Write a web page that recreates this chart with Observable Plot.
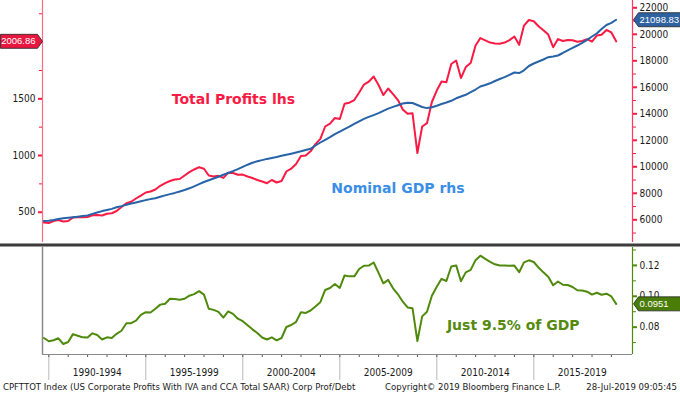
<!DOCTYPE html>
<html><head><meta charset="utf-8">
<script src="https://cdn.jsdelivr.net/npm/d3@7"></script>
<script src="https://cdn.jsdelivr.net/npm/@observablehq/plot@0.6"></script>
<style>
html,body{margin:0;padding:0;background:#fff;}
#chart{position:relative;width:680px;height:393px;overflow:hidden;background:#fff;font-family:"DejaVu Sans Condensed","DejaVu Sans",sans-serif;}
.layer{position:absolute;left:0;}
.layer svg{display:block;}
#sep{position:absolute;left:0;top:243px;width:680px;height:2px;background:#3c3c3c;border-top:1px solid #9a9a9a;border-bottom:1px solid #9a9a9a;}
#footer{position:absolute;left:0;top:381px;width:680px;height:12px;font-size:9.5px;line-height:11px;color:#1a1a1a;white-space:nowrap;font-stretch:condensed;}
#footer span{position:absolute;top:0;}
</style></head><body>
<div id="chart">
  <div id="upper1" class="layer" style="top:0"></div>
  <div id="upper2" class="layer" style="top:0"></div>
  <div id="sep"></div>
  <div id="lower" class="layer" style="top:247px"></div>
  <div id="footer">
    <span style="left:3px">CPFTTOT Index (US Corporate Profits With IVA and CCA Total SAAR) Corp Prof/Debt</span>
    <span style="left:385px">Copyright© 2019 Bloomberg Finance L.P.</span>
    <span style="right:3px">28-Jul-2019 09:05:45</span>
  </div>
</div>
<script>
// ---------------- data (quarterly, first observation 1989 Q3) ----------------
const startYear = 1989, startQuarter = 3;

// Total corporate profits (lhs, USD bn SAAR)
const profits = [
  409,405,422,431,418,422,453,456,456,458,
  473,475,471,486,491,511,546,579,592,621,
  647,674,683,700,733,757,775,788,793,824,
  854,877,897,883,824,815,821,803,848,846,
  830,832,815,802,784,771,756,784,762,775,
  859,884,925,996,1000,1037,1101,1147,1256,1282,
  1331,1322,1456,1466,1489,1556,1626,1651,1697,1622,
  1533,1591,1542,1489,1406,1368,1373,1022,1256,1285,
  1472,1573,1652,1646,1807,1838,1683,1780,1816,1970,
  2036,2016,1996,1988,1985,1996,2018,2049,1976,2146,
  2195,2184,2140,2105,2067,1955,2027,2010,2018,2016,
  2003,2010,2027,2005,2058,2065,2107,2085,2006.86
];

// Nominal GDP (rhs, USD bn SAAR)
const gdp = [
  5909,5932,5985,6060,6113,6151,6189,6234,6279,6332,
  6445,6551,6657,6740,6823,6943,7034,7140,7230,7313,
  7396,7487,7562,7623,7736,7841,7940,8030,8136,8249,
  8377,8528,8687,8853,8981,9117,9253,9396,9532,9668,
  9826,9992,10158,10302,10415,10505,10596,10664,10740,10830,
  10906,10989,11079,11170,11268,11358,11607,11834,12038,12241,
  12468,12649,12845,13026,13238,13434,13622,13766,13902,14053,
  14219,14392,14521,14641,14777,14830,14815,14664,14513,14430,
  14490,14611,14739,14853,14981,15170,15305,15434,15630,15834,
  16060,16173,16302,16475,16626,16770,16936,17117,17079,17283,
  17607,17796,17947,18098,18271,18324,18400,18589,18792,18981,
  19154,19350,19584,19834,20060,20400,20701,20868,21098.83
];

// Profits / GDP (lower panel)
const ratio = [
  0.0730,0.0709,0.0715,0.0728,0.0691,0.0704,0.0755,0.0744,0.0734,0.0733,
  0.0760,0.0749,0.0720,0.0734,0.0730,0.0757,0.0777,0.0825,0.0826,0.0842,
  0.0880,0.0897,0.0895,0.0919,0.0946,0.0952,0.0984,0.0982,0.0978,0.0984,
  0.1004,0.1014,0.1033,0.1011,0.0919,0.0912,0.0899,0.0862,0.0902,0.0886,
  0.0855,0.0839,0.0812,0.0786,0.0762,0.0733,0.0720,0.0734,0.0715,0.0730,
  0.0801,0.0814,0.0834,0.0897,0.0892,0.0908,0.0934,0.0962,0.1041,0.1054,
  0.1080,0.1054,0.1135,0.1129,0.1129,0.1177,0.1198,0.1199,0.1219,0.1152,
  0.1084,0.1106,0.1052,0.1013,0.0965,0.0928,0.0923,0.0710,0.0870,0.0900,
  0.1003,0.1062,0.1113,0.1099,0.1193,0.1200,0.1097,0.1155,0.1171,0.1234,
  0.1263,0.1242,0.1223,0.1207,0.1199,0.1200,0.1198,0.1199,0.1156,0.1220,
  0.1233,0.1222,0.1186,0.1155,0.1126,0.1072,0.1096,0.1075,0.1073,0.1060,
  0.1039,0.1038,0.1030,0.1011,0.1023,0.1010,0.1017,0.0999,0.0951
];

// axis ticks and labels (the 2000 label is hidden under the last-value tag in the original)
const leftTicks  = [500, 1000, 1500];
const leftHiddenTick = [2000];
const leftMinor  = [750, 1250, 1750, 2250];
const rightTicks = [6000, 8000, 10000, 12000, 14000, 16000, 18000, 20000, 22000];
const rightMinor = [5000, 7000, 9000, 11000, 13000, 15000, 17000, 19000, 21000];
const ratioTicks = [0.08, 0.10, 0.12];
const ratioMinor = [0.07, 0.09, 0.11, 0.13];
const periodStarts = [1990, 1995, 2000, 2005, 2010, 2015];
const periodLabels = ["1990-1994", "1995-1999", "2000-2004", "2005-2009", "2010-2014", "2015-2019"];
const tickYears = d3.range(1990, 2020);

// annotations
const notesTop = [{date: new Date(Date.UTC(1999, 6, 8)), value: 1491, label: "Total Profits lhs"}];
const notesGdp = [{date: new Date(Date.UTC(2008, 0, 1)), value: 8340, label: "Nominal GDP rhs"}];
const notesRatio = [{date: new Date(Date.UTC(2013, 11, 10)), value: 0.0811, label: "Just 9.5% of GDP"}];

// ---------------- build tables ----------------
const dates = profits.map((_, i) => {
  const q = startQuarter - 1 + i;
  const y = startYear + Math.floor(q / 4), qq = q % 4;
  return new Date(Date.UTC(y, qq * 3 + 3, 0));
});
const profitsData = profits.map((v, i) => ({date: dates[i], value: v}));
const gdpData = gdp.map((v, i) => ({date: dates[i], value: v}));
const ratioData = ratio.map((v, i) => ({date: dates[i], value: v}));
const lastOf = a => [a[a.length - 1]];

const RED = "#fa1a44", BLUE = "#2763a8", GREEN = "#4f8a0c";
const TAG_RED = "#e8173f", TAG_BLUE = "#2f62a0", TAG_GREEN = "#4a7d08";
const FONT = "'DejaVu Sans Condensed','DejaVu Sans',sans-serif";
const TAG_FONT = "'Liberation Sans',Arial,sans-serif";
const TEXT = "#1a1a1a";

const xDomain = [new Date(Date.UTC(1989, 8, 4)), new Date(Date.UTC(2020, 1, 2))];
const ratioDomain = [0.0623, 0.1316];

const tagLeft = {draw(c) { c.moveTo(-42, -7); c.lineTo(-5, -7); c.lineTo(0, 0); c.lineTo(-5, 7); c.lineTo(-42, 7); c.closePath(); }};
const tagRight = {draw(c) { c.moveTo(1, 0); c.lineTo(6, -7); c.lineTo(50, -7); c.lineTo(50, 7); c.lineTo(6, 7); c.closePath(); }};

const common = {
  width: 680, marginLeft: 42, marginRight: 48,
  style: {background: "transparent", fontFamily: FONT, fontSize: "10px", color: TEXT, overflow: "visible"}
};

// ---------------- upper panel: profits (lhs) ----------------
const up1 = Plot.plot({
  ...common, height: 243, marginTop: 0, marginBottom: 1,
  x: {type: "utc", domain: xDomain, axis: null},
  y: {domain: [233, 2367], label: null},
  marks: [
    Plot.ruleX([xDomain[0]], {stroke: "#ff6a84", strokeWidth: 1.2}),
    Plot.axisY(leftMinor, {anchor: "left", tickSize: 3, tickFormat: () => "", stroke: RED, label: null}),
    Plot.axisY(leftTicks, {anchor: "left", tickSize: 4, tickPadding: 3, tickFormat: d => String(d), stroke: RED, strokeWidth: 2, fill: TEXT, label: null}),
    Plot.axisY(leftHiddenTick, {anchor: "left", tickSize: 4, tickFormat: () => "", stroke: RED, strokeWidth: 2, label: null}),
    Plot.line(profitsData, {x: "date", y: "value", stroke: RED, strokeWidth: 2}),
    Plot.text(notesTop, {x: "date", y: "value", text: "label", fill: RED, fontSize: 14, fontWeight: "bold", fontFamily: "DejaVu Sans"}),
    Plot.dot(lastOf(profitsData), {y: "value", frameAnchor: "left", symbol: tagLeft, fill: TAG_RED, stroke: "#222", strokeWidth: 0.8}),
    Plot.text(lastOf(profitsData), {y: "value", frameAnchor: "left", dx: -7, textAnchor: "end", text: d => d.value.toFixed(2), fill: "white", fontSize: 9.5, fontFamily: TAG_FONT})
  ]
});
document.getElementById("upper1").append(up1);

// ---------------- upper panel: GDP (rhs) ----------------
const up2 = Plot.plot({
  ...common, height: 243, marginTop: 0, marginBottom: 1,
  x: {type: "utc", domain: xDomain, axis: null},
  y: {domain: [4287, 22551], label: null},
  marks: [
    Plot.ruleX([xDomain[1]], {stroke: "#ff3a5c", strokeWidth: 1.2}),
    Plot.axisY(rightMinor, {anchor: "right", tickSize: 3, tickFormat: () => "", stroke: RED, label: null}),
    Plot.axisY(rightTicks, {anchor: "right", tickSize: 4, tickPadding: 3, tickFormat: d => String(d), stroke: RED, strokeWidth: 2, fill: TEXT, label: null}),
    Plot.line(gdpData, {x: "date", y: "value", stroke: BLUE, strokeWidth: 2}),
    Plot.text(notesGdp, {x: "date", y: "value", text: "label", fill: "#3a8ee6", fontSize: 14, fontWeight: "bold", fontFamily: "DejaVu Sans"}),
    Plot.dot(lastOf(gdpData), {y: "value", frameAnchor: "right", symbol: tagRight, fill: TAG_BLUE, stroke: "#222", strokeWidth: 0.8}),
    Plot.text(lastOf(gdpData), {y: "value", frameAnchor: "right", dx: 7, textAnchor: "start", text: d => d.value.toFixed(2), fill: "white", fontSize: 9.5, fontFamily: TAG_FONT})
  ]
});
document.getElementById("upper2").append(up2);

// ---------------- lower panel: ratio ----------------
const periodOf = d => periodLabels[periodStarts.indexOf(d.getUTCFullYear() - 2)];
const low = Plot.plot({
  ...common, height: 138, marginTop: 0, marginBottom: 31,
  x: {type: "utc", domain: xDomain, label: null},
  y: {domain: ratioDomain, label: null},
  marks: [
    Plot.axisX(periodStarts.map(y => new Date(Date.UTC(y, 0, 1))), {tickSize: 26, tickFormat: () => "", stroke: "#b8b8b8", label: null}),
    Plot.axisX(tickYears.map(y => new Date(Date.UTC(y, 0, 1))), {tickSize: 3, tickFormat: () => "", stroke: "#555", label: null}),
    Plot.axisX(periodStarts.map(y => new Date(Date.UTC(y + 2, 6, 1))), {tickSize: 0, tickPadding: 14, tickFormat: periodOf, fill: TEXT, label: null}),
    Plot.ruleX([xDomain[0]], {stroke: "#8a8a8a", strokeWidth: 1.5}),
    Plot.ruleY([ratioDomain[0]], {stroke: "#8a8a8a"}),
    Plot.ruleX([xDomain[1]], {stroke: GREEN, strokeWidth: 1.2}),
    Plot.axisY(ratioMinor, {anchor: "right", tickSize: 3, tickFormat: () => "", stroke: GREEN, label: null}),
    Plot.axisY(ratioTicks, {anchor: "right", tickSize: 4, tickPadding: 3, tickFormat: d => d.toFixed(2), stroke: GREEN, strokeWidth: 2, fill: TEXT, label: null}),
    Plot.line(ratioData, {x: "date", y: "value", stroke: GREEN, strokeWidth: 2}),
    Plot.text(notesRatio, {x: "date", y: "value", text: "label", fill: "#568a0e", fontSize: 14, fontWeight: "bold", fontFamily: "DejaVu Sans"}),
    Plot.dot(lastOf(ratioData), {y: "value", frameAnchor: "right", symbol: tagRight, fill: TAG_GREEN, stroke: "#222", strokeWidth: 0.8}),
    Plot.text(lastOf(ratioData), {y: "value", frameAnchor: "right", dx: 7, textAnchor: "start", text: d => d.value.toFixed(4), fill: "white", fontSize: 9.5, fontFamily: TAG_FONT})
  ]
});
document.getElementById("lower").append(low);
</script>
</body></html>
